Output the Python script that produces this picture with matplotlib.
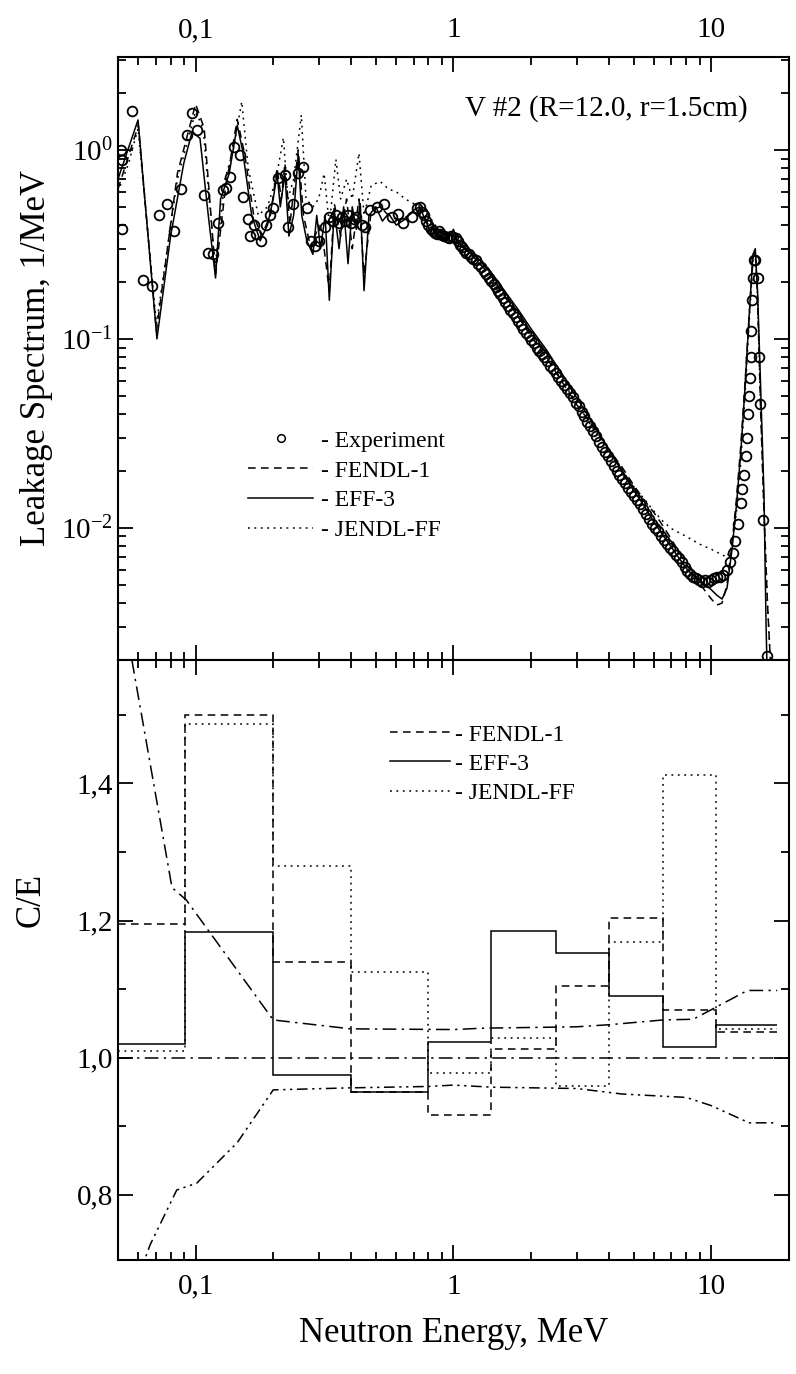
import numpy as np
import matplotlib
matplotlib.use("Agg")
import matplotlib.pyplot as plt
from matplotlib.lines import Line2D
from matplotlib.ticker import FixedLocator, FuncFormatter, LogLocator, NullFormatter

plt.rcParams['font.family'] = ['Liberation Serif', 'DejaVu Serif']
plt.rcParams['mathtext.fontset'] = 'custom'
plt.rcParams['mathtext.rm'] = 'Liberation Serif'
plt.rcParams['mathtext.it'] = 'Liberation Serif:italic'

# ---- leakage spectrum, 1/MeV ----
exp_E = [0.0515, 0.0518, 0.052, 0.0567, 0.0625, 0.0678, 0.0721, 0.0775, 0.0824, 0.0877,
         0.0927, 0.097, 0.1015, 0.1076, 0.112, 0.117, 0.122, 0.128, 0.131, 0.136,
         0.141, 0.148, 0.153, 0.159, 0.163, 0.168, 0.172, 0.18, 0.187, 0.195,
         0.2, 0.208, 0.222, 0.228, 0.238, 0.25, 0.26, 0.27, 0.28, 0.29,
         0.3, 0.318, 0.33, 0.34, 0.35, 0.36, 0.37, 0.38, 0.39, 0.4,
         0.41, 0.42, 0.44, 0.454, 0.475, 0.505, 0.54, 0.58, 0.61, 0.64,
         0.69, 0.72,
         0.740, 0.755, 0.770, 0.785, 0.800, 0.815, 0.830, 0.845, 0.860, 0.875,
         0.890, 0.905, 0.920, 0.940, 0.960, 0.980, 1.000, 1.020, 1.040, 1.060,
         1.080, 1.100, 1.120, 1.145, 1.170, 1.195, 1.220, 1.250, 1.280, 1.310,
         1.340, 1.370, 1.400, 1.430, 1.460, 1.490, 1.520, 1.555, 1.590, 1.625,
         1.660, 1.700, 1.740, 1.780, 1.820, 1.865, 1.910, 1.955, 2.000, 2.050,
         2.100, 2.150, 2.200, 2.250, 2.310, 2.370, 2.430, 2.490, 2.550, 2.620,
         2.690, 2.760, 2.830, 2.900, 2.980, 3.060, 3.140, 3.220, 3.300, 3.390,
         3.480, 3.570, 3.660, 3.760, 3.860, 3.960, 4.070, 4.180, 4.290, 4.400,
         4.520, 4.640, 4.770, 4.900, 5.030, 5.170, 5.310, 5.450, 5.600, 5.750,
         5.900, 6.050, 6.210, 6.380, 6.550, 6.720, 6.900, 7.080, 7.270, 7.460,
         7.660, 7.870, 8.080, 8.300, 8.520, 8.750, 8.980, 9.220, 9.470, 9.720,
         9.980, 10.25, 10.52, 10.80, 11.10,
         11.5, 11.8, 12.1, 12.4, 12.7, 13.0, 13.2, 13.4, 13.6, 13.75,
         13.9, 14.0, 14.1, 14.2, 14.3, 14.4, 14.5, 14.6, 14.8, 15.1,
         15.3, 15.5, 15.9, 16.4]
exp_flux = [1.00, 0.88, 0.38, 1.60, 0.205, 0.19, 0.45, 0.52, 0.37, 0.62,
            1.20, 1.57, 1.27, 0.58, 0.284, 0.28, 0.41, 0.61, 0.63, 0.72,
            1.03, 0.94, 0.56, 0.43, 0.35, 0.40, 0.36, 0.33, 0.40, 0.45,
            0.49, 0.71, 0.74, 0.39, 0.52, 0.75, 0.81, 0.49, 0.33, 0.31,
            0.33, 0.39, 0.44, 0.42, 0.45, 0.41, 0.44, 0.42, 0.45, 0.41,
            0.43, 0.44, 0.40, 0.39, 0.48, 0.50, 0.52, 0.44, 0.46, 0.41,
            0.44, 0.49,
            0.50, 0.47, 0.45, 0.42, 0.40, 0.38, 0.37, 0.365, 0.36, 0.37,
            0.36, 0.355, 0.35, 0.345, 0.34, 0.35, 0.345, 0.34, 0.33, 0.315,
            0.305, 0.295, 0.285, 0.28, 0.27, 0.265, 0.26, 0.25, 0.24, 0.228,
            0.22, 0.21, 0.203, 0.196, 0.188, 0.18, 0.172, 0.164, 0.157, 0.150,
            0.143, 0.137, 0.130, 0.124, 0.119, 0.113, 0.108, 0.103, 0.099, 0.095,
            0.090, 0.086, 0.083, 0.080, 0.076, 0.072, 0.069, 0.066, 0.063, 0.060,
            0.057, 0.054, 0.052, 0.049, 0.046, 0.044, 0.041, 0.039, 0.0365, 0.0345,
            0.0325, 0.0305, 0.0285, 0.0268, 0.0252, 0.0240, 0.0225, 0.0212, 0.0200, 0.0191,
            0.0182, 0.0172, 0.0163, 0.0155, 0.0147, 0.0140, 0.0133, 0.0126, 0.0119, 0.0111,
            0.0105, 0.0100, 0.0096, 0.0091, 0.0086, 0.0082, 0.0078, 0.0075, 0.0072, 0.0069,
            0.0066, 0.0062, 0.0059, 0.0057, 0.0055, 0.0054, 0.0053, 0.0052, 0.0053, 0.0052,
            0.0053, 0.0054, 0.0055, 0.0055, 0.0056,
            0.0060, 0.0066, 0.0074, 0.0085, 0.0105, 0.0135, 0.016, 0.019, 0.024, 0.030,
            0.040, 0.050, 0.062, 0.080, 0.11, 0.16, 0.21, 0.26, 0.26, 0.21,
            0.08, 0.045, 0.011, 0.0021]

fendl_E = [0.05, 0.06, 0.0705, 0.085, 0.1, 0.108, 0.1195, 0.13, 0.145, 0.155,
           0.168, 0.18, 0.195, 0.207, 0.215, 0.222, 0.232, 0.25, 0.262, 0.28,
           0.3, 0.315, 0.33, 0.345, 0.365, 0.385, 0.405, 0.43, 0.45, 0.48,
           0.52, 0.56, 0.62, 0.7, 0.75, 0.8, 0.85, 0.92, 1.0, 1.05,
           1.1, 1.2, 1.4, 1.6, 1.8, 2.0, 2.3, 2.6, 3.0, 3.5,
           4.0, 4.5, 5.0, 5.5, 6.0, 6.5, 7.0, 7.5, 8.0, 8.5,
           9.0, 9.5, 10.0, 10.5, 11.0, 11.5, 12.0, 12.5, 13.0, 13.5,
           14.0, 14.5, 14.8, 15.1, 15.5, 16.0, 16.5, 17.0]
fendl_flux = [0.62, 1.35, 0.11, 0.75, 1.75, 1.30, 0.22, 0.60, 1.45, 0.95,
              0.45, 0.35, 0.45, 0.80, 0.55, 0.85, 0.40, 1.00, 0.45, 0.30,
              0.40, 0.30, 0.18, 0.52, 0.35, 0.55, 0.30, 0.55, 0.22, 0.48,
              0.50, 0.45, 0.42, 0.47, 0.48, 0.40, 0.37, 0.34, 0.35, 0.32,
              0.30, 0.27, 0.215, 0.163, 0.128, 0.103, 0.079, 0.061, 0.045, 0.034,
              0.026, 0.021, 0.0168, 0.0140, 0.0120, 0.0102, 0.0087, 0.0074, 0.0064, 0.0057,
              0.0051, 0.0046, 0.0042, 0.0039, 0.0040, 0.0050, 0.0080, 0.0140, 0.027, 0.058,
              0.13, 0.27, 0.29, 0.17, 0.045, 0.012, 0.0040, 0.0018]

eff_E = [0.05, 0.0598, 0.0708, 0.08, 0.09, 0.097, 0.104, 0.112, 0.1195, 0.125,
         0.135, 0.145, 0.152, 0.165, 0.178, 0.19, 0.2, 0.207, 0.213, 0.222,
         0.23, 0.24, 0.25, 0.258, 0.27, 0.285, 0.295, 0.305, 0.318, 0.33,
         0.345, 0.36, 0.375, 0.39, 0.405, 0.42, 0.435, 0.45, 0.47, 0.5,
         0.53, 0.56, 0.6, 0.65, 0.7, 0.74, 0.78, 0.82, 0.87, 0.92,
         0.97, 1.0, 1.03, 1.08, 1.15, 1.25, 1.4, 1.6, 1.8, 2.0,
         2.3, 2.6, 3.0, 3.5, 4.0, 4.5, 5.0, 5.5, 6.0, 6.5,
         7.0, 7.5, 8.0, 8.5, 9.0, 9.5, 10.0, 10.5, 11.0, 11.5,
         12.0, 12.5, 13.0, 13.5, 14.0, 14.5, 14.8, 15.1, 15.5, 16.0,
         16.3, 16.5]
eff_flux = [0.70, 1.44, 0.10, 0.35, 0.85, 1.25, 1.15, 0.45, 0.21, 0.55,
            0.75, 1.35, 1.00, 0.45, 0.33, 0.40, 0.55, 0.75, 0.50, 0.75,
            0.35, 0.45, 0.95, 0.45, 0.33, 0.28, 0.45, 0.30, 0.45, 0.16,
            0.48, 0.30, 0.50, 0.25, 0.50, 0.38, 0.52, 0.18, 0.45, 0.50,
            0.42, 0.46, 0.40, 0.43, 0.48, 0.50, 0.42, 0.36, 0.36, 0.33,
            0.35, 0.38, 0.33, 0.31, 0.29, 0.265, 0.225, 0.175, 0.140, 0.113,
            0.087, 0.067, 0.049, 0.035, 0.026, 0.020, 0.0158, 0.0130, 0.0107, 0.0091,
            0.0079, 0.0069, 0.0061, 0.0056, 0.0053, 0.0050, 0.0047, 0.0044, 0.0042, 0.0048,
            0.0075, 0.0130, 0.025, 0.055, 0.13, 0.28, 0.30, 0.18, 0.06, 0.015,
            0.003, 0.0015]

jendl_E = [0.05, 0.055, 0.0598, 0.0705, 0.085, 0.1, 0.107, 0.119, 0.13, 0.14,
           0.151, 0.16, 0.175, 0.19, 0.205, 0.219, 0.228, 0.24, 0.257, 0.268,
           0.285, 0.3, 0.315, 0.33, 0.35, 0.365, 0.385, 0.405, 0.43, 0.45,
           0.48, 0.52, 0.56, 0.6, 0.65, 0.7, 0.75, 0.8, 0.85, 0.9,
           0.95, 1.0, 1.05, 1.1, 1.2, 1.4, 1.6, 1.8, 2.0, 2.3,
           2.6, 3.0, 3.5, 4.0, 4.5, 5.0, 5.5, 6.0, 6.5, 7.0,
           8.0, 9.0, 10.0, 11.0, 11.5, 12.0, 12.5, 13.0, 13.5, 14.0,
           14.5, 14.8, 15.1, 15.5, 16.0, 16.5, 17.0]
jendl_flux = [0.60, 0.85, 1.30, 0.12, 0.70, 1.60, 1.30, 0.24, 0.70, 1.00,
              1.80, 0.80, 0.45, 0.50, 0.70, 1.16, 0.55, 0.70, 1.53, 0.55,
              0.50, 0.55, 0.75, 0.40, 0.89, 0.55, 0.70, 0.55, 0.96, 0.45,
              0.65, 0.68, 0.62, 0.60, 0.55, 0.52, 0.50, 0.45, 0.40, 0.37,
              0.35, 0.36, 0.33, 0.30, 0.27, 0.215, 0.165, 0.130, 0.105, 0.080,
              0.062, 0.046, 0.033, 0.025, 0.0200, 0.0165, 0.0142, 0.0122, 0.0108, 0.0099,
              0.0090, 0.0082, 0.0077, 0.0072, 0.0070, 0.0080, 0.0120, 0.022, 0.050, 0.12,
              0.26, 0.28, 0.17, 0.045, 0.012, 0.0040, 0.0018]

# ---- C/E ratios in energy groups ----
bin_edges = [0.05, 0.091, 0.2, 0.4, 0.8, 1.4, 2.5, 4.0, 6.5, 10.4, 18.0]
ce_fendl = [1.195, 1.50, 1.14, 0.95, 0.917, 1.012, 1.105, 1.203, 1.07, 1.038]
ce_eff = [1.02, 1.183, 0.974, 0.95, 1.023, 1.185, 1.152, 1.09, 1.016, 1.047]
ce_jendl = [1.009, 1.486, 1.28, 1.125, 0.977, 1.028, 0.958, 1.168, 1.412, 1.042]

# experimental error band
err_E_hi = [0.05, 0.081, 0.092, 0.2, 0.4, 1.0, 1.3, 3.0, 4.0, 6.5, 8.5, 10.0, 13.8, 18.0]
err_hi = [1.695, 1.248, 1.23, 1.055, 1.042, 1.041, 1.043, 1.045, 1.048, 1.055, 1.056, 1.07, 1.098, 1.098]
err_E_lo = [0.060, 0.0666, 0.0845, 0.101, 0.145, 0.2, 0.4, 0.8, 1.0, 1.4, 3.0, 4.5, 8.0, 10.0, 14.0, 18.0]
err_lo = [0.68, 0.727, 0.807, 0.817, 0.876, 0.953, 0.956, 0.958, 0.96, 0.957, 0.955, 0.947, 0.942, 0.93, 0.905, 0.905]
unity = 1.0

xticks = [0.1, 1, 10]
xticklabels = ['0,1', '1', '10']
ce_ticks = [0.8, 1.0, 1.2, 1.4]
ce_ticklabels = ['0,8', '1,0', '1,2', '1,4']
ce_minor = [0.9, 1.1, 1.3, 1.5]

DASH = (0, (5, 3.5))
DOT = (0, (1.2, 3))
DASHDOT = (0, (9, 3.5, 1.5, 3.5))
DASHDOTDOT = (0, (7, 3, 1.5, 3, 1.5, 3))
LW = 1.1

fig = plt.figure(figsize=(7.96, 13.74), dpi=100)
ax1 = fig.add_axes([0.1482, 0.5197, 0.843, 0.4388])
ax2 = fig.add_axes([0.1482, 0.0830, 0.843, 0.4367])

# upper panel
ax1.plot(fendl_E, fendl_flux, color='k', lw=LW, ls=DASH)
ax1.plot(eff_E, eff_flux, color='k', lw=LW, ls='-')
ax1.plot(jendl_E, jendl_flux, color='k', lw=LW, ls=DOT)
ax1.plot(exp_E, exp_flux, ls='none', marker='o', ms=7, mfc='none', mec='k', mew=1.3)
ax1.set_xscale('log')
ax1.set_yscale('log')
ax1.set_xlim(0.05, 20)
ax1.set_ylim(2e-3, 3.1)
ax1.set_ylabel('Leakage Spectrum, 1/MeV', fontsize=25, labelpad=6)
ax1.text(0.939, 0.915, 'V #2 (R=12.0, r=1.5cm)', transform=ax1.transAxes,
         ha='right', va='center', fontsize=21)

h1 = [Line2D([], [], ls='none', marker='o', ms=5.5, mfc='none', mec='k', mew=1.1),
      Line2D([], [], color='k', lw=LW, ls=DASH),
      Line2D([], [], color='k', lw=LW, ls='-'),
      Line2D([], [], color='k', lw=LW, ls=DOT)]
ax1.legend(h1, ['- Experiment', '- FENDL-1', '- EFF-3', '- JENDL-FF'],
           loc='upper left', bbox_to_anchor=(0.194, 0.381), frameon=False,
           fontsize=17, handlelength=2.75, handletextpad=0.35, labelspacing=0.35,
           borderpad=0, borderaxespad=0)

# lower panel
ax2.axhline(unity, color='k', lw=LW, ls=DASHDOT)
ax2.plot(err_E_hi, err_hi, color='k', lw=LW, ls=DASHDOT)
ax2.plot(err_E_lo, err_lo, color='k', lw=LW, ls=DASHDOTDOT)
ax2.stairs(ce_fendl, bin_edges, baseline=None, color='k', lw=LW, ls=DASH)
ax2.stairs(ce_eff, bin_edges, baseline=None, color='k', lw=LW, ls='-')
ax2.stairs(ce_jendl, bin_edges, baseline=None, color='k', lw=LW, ls=DOT)
ax2.set_xscale('log')
ax2.set_xlim(0.05, 20)
ax2.set_ylim(0.705, 1.58)
ax2.set_ylabel('C/E', fontsize=25, labelpad=14)
ax2.yaxis.set_label_coords(-0.105, 0.6)
ax2.set_xlabel('Neutron Energy, MeV', fontsize=25, labelpad=12)

h2 = [Line2D([], [], color='k', lw=LW, ls=DASH),
      Line2D([], [], color='k', lw=LW, ls='-'),
      Line2D([], [], color='k', lw=LW, ls=DOT)]
ax2.legend(h2, ['- FENDL-1', '- EFF-3', '- JENDL-FF'],
           loc='upper left', bbox_to_anchor=(0.405, 0.893), frameon=False,
           fontsize=17, handlelength=2.55, handletextpad=0.2, labelspacing=0.32,
           borderpad=0, borderaxespad=0)

# axes, ticks and labels
xfmt = FuncFormatter(lambda v, p: dict(zip(xticks, xticklabels)).get(round(v, 6), ''))
for ax in (ax1, ax2):
    for s in ax.spines.values():
        s.set_linewidth(1.5)
    ax.xaxis.set_major_locator(FixedLocator(xticks))
    ax.xaxis.set_minor_locator(LogLocator(base=10, subs=np.arange(2, 10), numticks=20))
    ax.xaxis.set_major_formatter(xfmt)
    ax.xaxis.set_minor_formatter(NullFormatter())
    ax.tick_params(which='both', direction='in', top=True, right=True, width=1.3,
                   labelsize=21)
    ax.tick_params(which='major', length=11)
    ax.tick_params(which='minor', length=6)
    ax.tick_params(axis='x', which='major', pad=10)

ax1.tick_params(axis='x', labeltop=True, labelbottom=False)
ax1.yaxis.set_major_locator(LogLocator(base=10, numticks=10))
ax1.yaxis.set_minor_locator(LogLocator(base=10, subs=np.arange(2, 10), numticks=20))
ax1.yaxis.set_major_formatter(FuncFormatter(lambda v, p: r'$10^{%d}$' % round(np.log10(v))))
ax1.yaxis.set_minor_formatter(NullFormatter())

ax2.yaxis.set_major_locator(FixedLocator(ce_ticks))
ax2.yaxis.set_minor_locator(FixedLocator(ce_minor))
ax2.yaxis.set_major_formatter(FuncFormatter(lambda v, p: dict(zip(ce_ticks, ce_ticklabels)).get(round(v, 3), '')))

fig.savefig('out.png', dpi=100)
